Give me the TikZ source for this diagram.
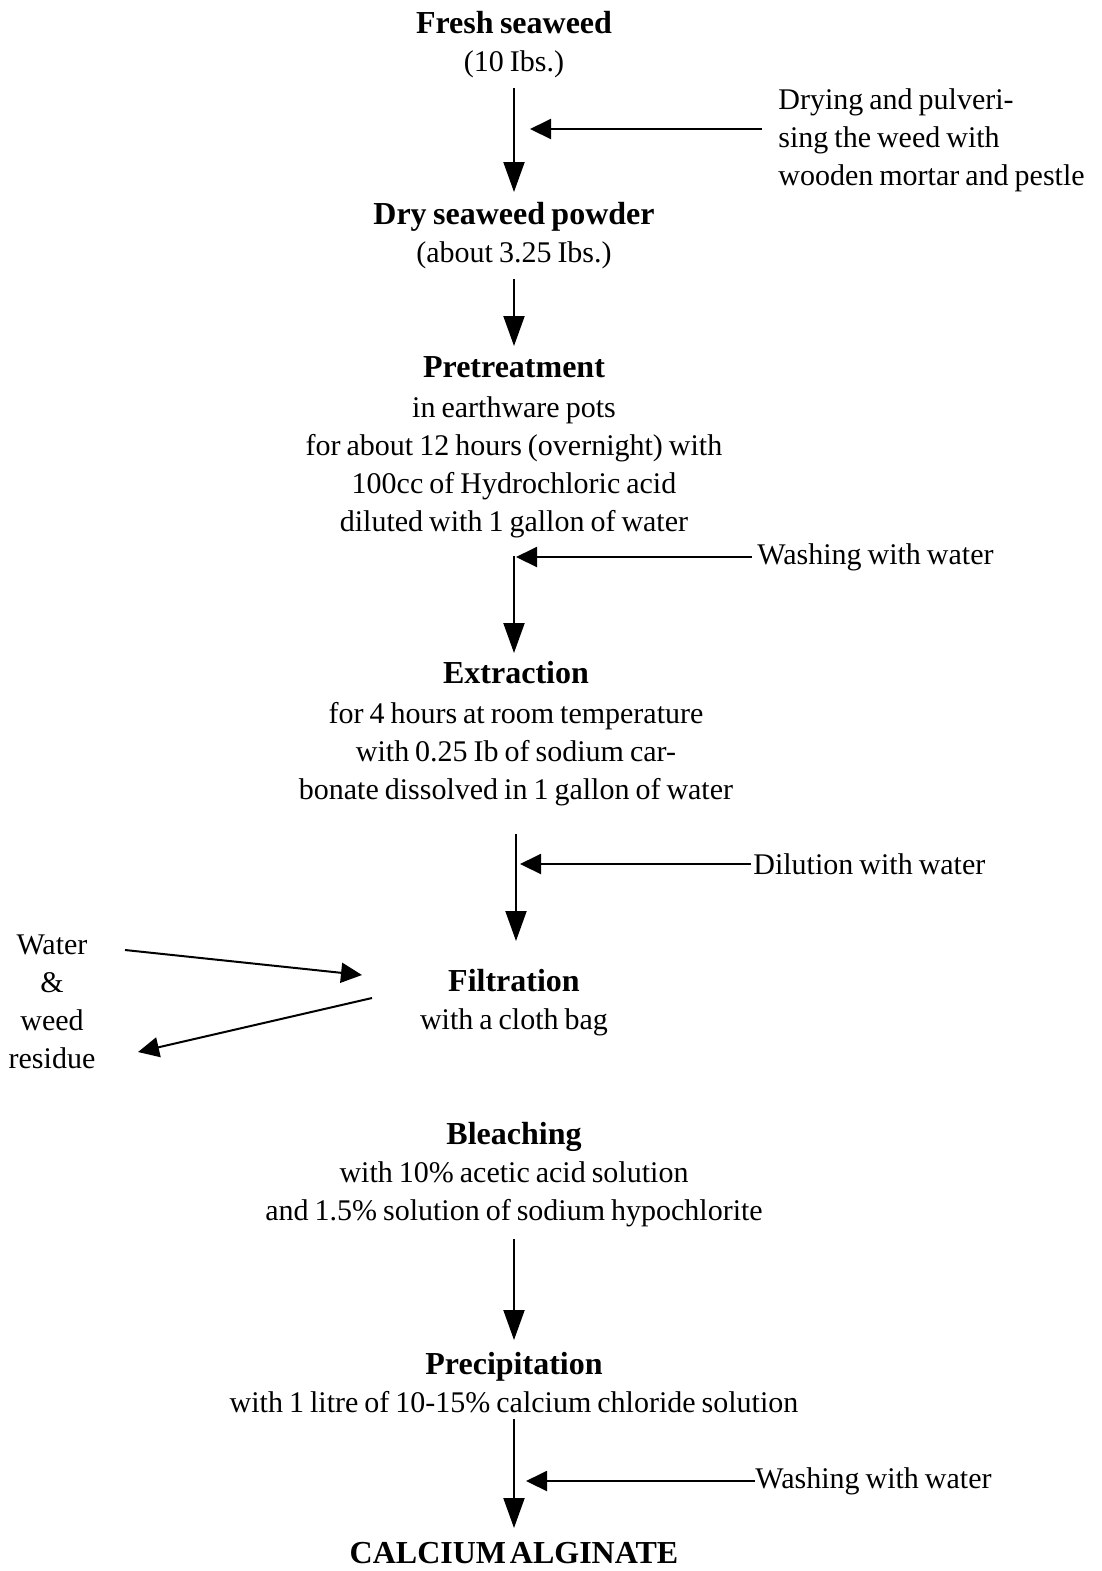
\documentclass[tikz,border=0pt]{standalone}
\usepackage{fontspec}
\setmainfont{Liberation Serif}[WordSpace={0.8}]
\usetikzlibrary{arrows.meta}

\begin{document}
\begin{tikzpicture}[x = 0.5pt, y = -0.5pt]
\tikzstyle{stepStyle} = [align = center, inner sep = 0pt, anchor = north, font = \fontsize{15}{19}\selectfont]
\tikzstyle{noteStyle} = [align = left, inner sep = 0pt, font = \fontsize{15}{19}\selectfont]
\tikzstyle{flowStyle} = [-{Triangle[length = 15pt, width = 10.5pt]}, line width = 1pt]
\tikzstyle{sideStyle} = [-{Triangle[length = 10.5pt, width = 10pt]}, line width = 1pt]
\newcommand{\stepTitle}[1]{{\fontsize{16}{19}\selectfont\bfseries #1}}
\useasboundingbox (0,0) rectangle (1102,1571);
% main steps
\node[stepStyle] (fresh) at (514, 11) {\stepTitle{Fresh seaweed}\\(10 Ibs.)};
\node[stepStyle] (dry) at (514, 202) {\stepTitle{Dry seaweed powder}\\(about 3.25 Ibs.)};
\node[stepStyle] (pretreat) at (514, 356) {\stepTitle{Pretreatment}\\[1pt]in earthware pots\\for about 12 hours (overnight) with\\100cc of Hydrochloric acid\\diluted with 1 gallon of water};
\node[stepStyle] (extract) at (516, 661) {\stepTitle{Extraction}\\[1pt]for 4 hours at room temperature\\with 0.25 Ib of sodium car-\\bonate dissolved in 1 gallon of water};
\node[stepStyle] (filter) at (514, 969) {\stepTitle{Filtration}\\with a cloth bag};
\node[stepStyle] (bleach) at (514, 1122) {\stepTitle{Bleaching}\\with 10\% acetic acid solution\\and 1.5\% solution of sodium hypochlorite};
\node[stepStyle] (precip) at (514, 1352) {\stepTitle{Precipitation}\\with 1 litre of 10-15\% calcium chloride solution};
\node[stepStyle] (alginate) at (514, 1542) {\stepTitle{CALCIUM\hspace{0.12em}ALGINATE}};
% side notes
\node[noteStyle, anchor = north west] (drynote) at (778, 88) {Drying and pulveri-\\sing the weed with\\wooden mortar and pestle};
\node[noteStyle, anchor = west] (wash1) at (757, 557) {Washing with water};
\node[noteStyle, anchor = west] (dilute) at (753, 864) {Dilution with water};
\node[noteStyle, anchor = west] (wash2) at (755, 1481) {Washing with water};
\node[noteStyle, align = center, anchor = north] (residue) at (52, 934) {Water\\\&\\weed\\residue};
\coordinate (resIn) at (125, 950);
\coordinate (filtIn) at (362, 975);
\coordinate (filtOut) at (372, 998);
\coordinate (resOut) at (138, 1052);
% arrows down
\draw[flowStyle, shorten < = 5pt, shorten > = 5pt] (fresh.south) -- (fresh.south |- dry.north);
\draw[flowStyle, shorten < = 5pt, shorten > = 5pt] (dry.south) -- (dry.south |- pretreat.north);
\draw[flowStyle, shorten < = 9pt, shorten > = 4pt] (pretreat.south) -- (pretreat.south |- extract.north);
\draw[flowStyle, shorten < = 14pt, shorten > = 14pt] (extract.south) -- (extract.south |- filter.north);
\draw[flowStyle, shorten < = 6pt, shorten > = 6pt] (bleach.south) -- (bleach.south |- precip.north);
\draw[flowStyle, shorten < = 3pt, shorten > = 7pt] (precip.south) -- (precip.south |- alginate.north);
% arrows in from the side
\draw[sideStyle, shorten < = 8pt, shorten > = 8pt] ([yshift = 5.5pt]drynote.west) -- ([yshift = 5.5pt]drynote.west -| fresh.south);
\draw[sideStyle, shorten < = 2.5pt, shorten > = 1pt] (wash1.west) -- (wash1.west -| pretreat.south);
\draw[sideStyle, shorten < = 1pt, shorten > = 2pt] (dilute.west) -- (dilute.west -| extract.south);
\draw[sideStyle, shorten > = 6pt] (wash2.west) -- (wash2.west -| precip.south);
\draw[sideStyle] (resIn) -- (filtIn);
\draw[sideStyle] (filtOut) -- (resOut);
\end{tikzpicture}
\end{document}
